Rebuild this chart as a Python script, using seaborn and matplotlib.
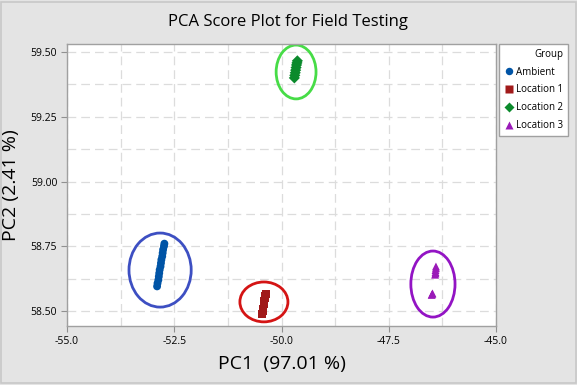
import matplotlib
matplotlib.use("Agg")
import matplotlib.pyplot as plt
from matplotlib.patches import Ellipse, Rectangle
from matplotlib.ticker import MultipleLocator, FormatStrFormatter
import seaborn as sns
import pandas as pd

# score values
ambient_pc1 = [-52.90, -52.89, -52.87, -52.86, -52.85, -52.84, -52.82,
               -52.81, -52.80, -52.78, -52.77, -52.76, -52.74, -52.73]
ambient_pc2 = [58.595, 58.607, 58.620, 58.633, 58.646, 58.659, 58.672,
               58.685, 58.698, 58.711, 58.724, 58.737, 58.750, 58.760]
loc1_pc1 = [-50.45, -50.44, -50.43, -50.42, -50.41, -50.40, -50.39, -50.38, -50.37]
loc1_pc2 = [58.488, 58.498, 58.508, 58.518, 58.528, 58.538, 58.548, 58.558, 58.566]
loc2_pc1 = [-49.70, -49.69, -49.68, -49.67, -49.66, -49.65, -49.64, -49.63]
loc2_pc2 = [59.400, 59.410, 59.420, 59.430, 59.440, 59.450, 59.458, 59.466]
loc3_pc1 = [-46.42, -46.41, -46.41, -46.40, -46.40, -46.41, -46.50, -46.49, -46.48]
loc3_pc2 = [58.640, 58.650, 58.658, 58.665, 58.672, 58.645, 58.562, 58.565, 58.568]

groups = ["Ambient", "Location 1", "Location 2", "Location 3"]

# hand drawn rings around each group (centre and size, data units)
ring_x = [-52.83, -50.41, -49.66, -46.47]
ring_y = [58.658, 58.535, 59.423, 58.604]
ring_w = [1.45, 1.12, 0.93, 1.03]
ring_h = [0.286, 0.154, 0.208, 0.255]

point_colors = ["#0054a6", "#a11a1a", "#0b8a2c", "#9a1ab8"]
ring_colors = ["#3d4fc2", "#d41414", "#47dc47", "#9314c4"]
markers = ["o", "s", "D", "^"]

df = pd.concat([
    pd.DataFrame({"PC1": ambient_pc1, "PC2": ambient_pc2, "Group": groups[0]}),
    pd.DataFrame({"PC1": loc1_pc1, "PC2": loc1_pc2, "Group": groups[1]}),
    pd.DataFrame({"PC1": loc2_pc1, "PC2": loc2_pc2, "Group": groups[2]}),
    pd.DataFrame({"PC1": loc3_pc1, "PC2": loc3_pc2, "Group": groups[3]}),
], ignore_index=True)

sns.set_style("white")
plt.rcParams["font.family"] = ["Open Sans", "DejaVu Sans"]
plt.rcParams["text.color"] = "black"
plt.rcParams["axes.labelcolor"] = "black"
plt.rcParams["xtick.labelcolor"] = "black"
plt.rcParams["ytick.labelcolor"] = "black"

fig = plt.figure(figsize=(5.77, 3.85), dpi=100)
fig.patch.set_facecolor("#e4e4e4")
fig.patches.append(Rectangle((0.002, 0.004), 0.996, 0.992, transform=fig.transFigure,
                             fill=False, edgecolor="#c8c8c8", linewidth=1.2))

ax = fig.add_axes([67 / 577, 1 - 326 / 385, (496 - 67) / 577, (326 - 44) / 385])

sns.scatterplot(data=df, x="PC1", y="PC2", hue="Group", style="Group",
                hue_order=groups, style_order=groups,
                palette=point_colors, markers=markers, s=32,
                edgecolor="none", ax=ax, legend=True, zorder=3)

for i in range(len(groups)):
    ax.add_patch(Ellipse((ring_x[i], ring_y[i]), ring_w[i], ring_h[i],
                         fill=False, edgecolor=ring_colors[i], linewidth=2.0, zorder=2))

ax.set_xlim(-55, -45)
ax.set_ylim(58.442, 59.531)
ax.xaxis.set_major_locator(MultipleLocator(2.5))
ax.xaxis.set_minor_locator(MultipleLocator(1.25))
ax.yaxis.set_major_locator(MultipleLocator(0.25))
ax.yaxis.set_minor_locator(MultipleLocator(0.125))
ax.xaxis.set_major_formatter(FormatStrFormatter("%.1f"))
ax.yaxis.set_major_formatter(FormatStrFormatter("%.2f"))
ax.grid(True, which="both", color="#dcdcdc", linestyle=(0, (7, 4)), linewidth=0.9, zorder=0)
ax.set_axisbelow(True)
ax.tick_params(axis="both", which="major", direction="out", length=4, width=0.8,
               color="#909090", labelsize=7.5, bottom=True, left=True, pad=3)
for sp in ax.spines.values():
    sp.set_color("#a0a0a0")
    sp.set_linewidth(1.0)

ax.set_xlabel("PC1  (97.01 %)", fontsize=14, labelpad=6)
ax.set_ylabel("PC2 (2.41 %)", fontsize=14, labelpad=8)
fig.suptitle("PCA Score Plot for Field Testing", fontsize=12, y=1 - 22 / 385, va="center")

handles, labels = ax.get_legend_handles_labels()
ax.legend_.remove()
leg = fig.legend(handles, labels, title="Group", loc="upper left",
                 bbox_to_anchor=(499 / 577, 1 - 44 / 385), fontsize=7, title_fontsize=7,
                 frameon=True, fancybox=False, edgecolor="#a0a0a0", framealpha=1,
                 handletextpad=0.3, handlelength=1.0, borderpad=0.5, labelspacing=0.7,
                 borderaxespad=0, alignment="right", markerscale=0.95)
leg.get_frame().set_linewidth(1.0)

fig.savefig("out.png", dpi=100, facecolor=fig.get_facecolor())
